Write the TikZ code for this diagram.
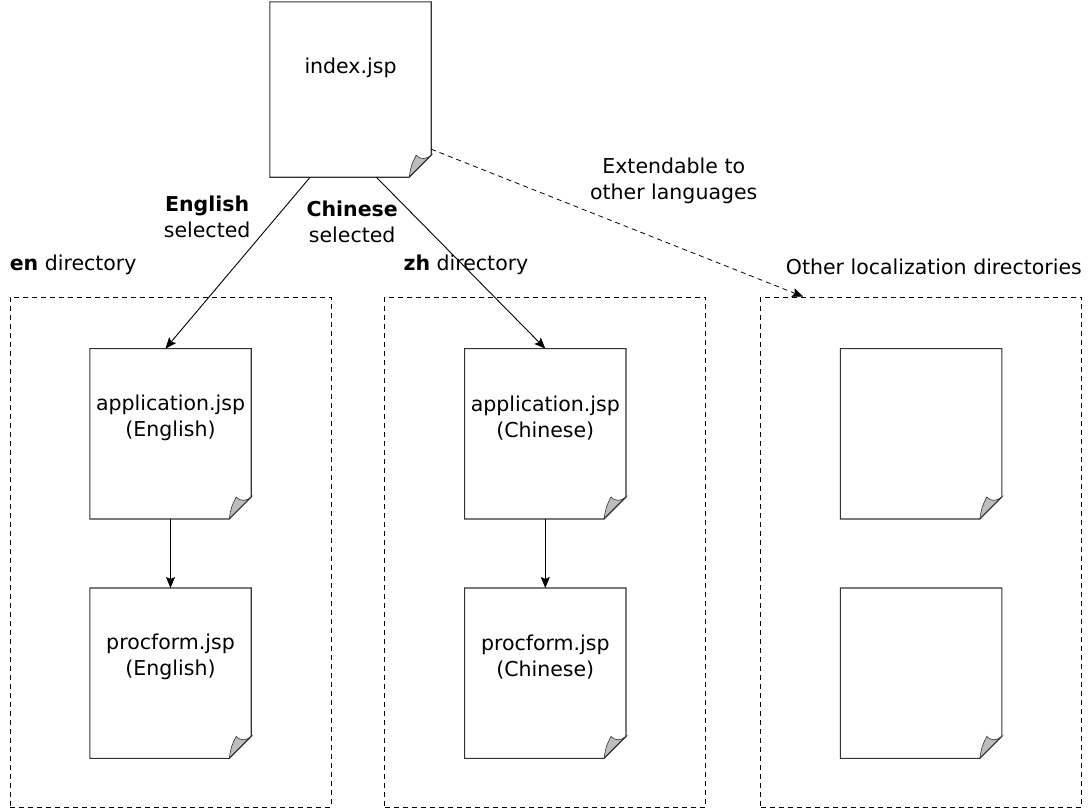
\documentclass[tikz,border=0pt]{standalone}
\usepackage{fontspec}
\setmainfont{DejaVu Sans}
\usetikzlibrary{positioning, calc, arrows.meta}
\definecolor{pgline}{HTML}{333333}
\definecolor{foldgray}{HTML}{BDBDBD}

\begin{document}
\begin{tikzpicture}[x=1pt, y=-1pt, font=\fontsize{20.5}{26}\selectfont,
    dirbox/.style={rectangle, draw, line width=0.8pt, dash pattern=on 5pt off 4pt, minimum width=321pt, minimum height=510pt},
    page/.style={rectangle, minimum width=161pt, minimum height=170pt, inner sep=0pt,
      append after command={\pgfextra{
        \begin{scope}[shift={(\tikzlastnode.south east)}, x=1pt, y=1pt]
          \filldraw[fill=foldgray, draw=pgline, line width=0.6pt] (-22,0) .. controls (-20,12) .. (-15,22) .. controls (-10,17) and (-5,18) .. (0,22) -- cycle;
        \end{scope}
        \draw[pgline, line width=1.1pt] (\tikzlastnode.north west) -- (\tikzlastnode.north east) -- ([yshift=22pt]\tikzlastnode.south east) -- ([xshift=-22pt]\tikzlastnode.south east) -- (\tikzlastnode.south west) -- cycle;
      }}},
    pgtxt/.style={align=center, inner sep=0pt, yshift=#1},
    pgtxt/.default=16pt,
    dirlbl/.style={inner sep=0pt},
    lbl/.style={inner sep=0pt, align=center},
    arr/.style={-{Stealth[length=11pt, width=9pt, inset=2pt]}, line width=0.9pt},
  ]
    \useasboundingbox (0,0) rectangle (1088,809);

    % directories
    \node[dirbox] (en-dir) at (170.5,552) {};
    \node[dirbox, right=53pt of en-dir] (zh-dir) {};
    \node[dirbox, right=54pt of zh-dir] (oth-dir) {};
    \node[dirlbl, above right=22pt and 0pt of en-dir.north west] (en-lbl) {\textbf{en} directory};
    \node[dirlbl, above right=22pt and 19pt of zh-dir.north west] (zh-lbl) {\textbf{zh} directory};
    \node[dirlbl, above left=22pt and 0pt of oth-dir.north east] (oth-lbl) {Other localization directories};

    % pages
    \node[page, minimum height=175pt, label={[pgtxt=22pt]center:index.jsp}] (index) at (350.5,89.5) {};
    \node[page, below=52pt of en-dir.north, label={[pgtxt]center:{application.jsp\\(English)}}] (app-en) {};
    \node[page, below=69pt of app-en, label={[pgtxt]center:{procform.jsp\\(English)}}] (proc-en) {};
    \node[page, below=52pt of zh-dir.north, label={[pgtxt]center:{application.jsp\\(Chinese)}}] (app-zh) {};
    \node[page, below=69pt of app-zh, label={[pgtxt]center:{procform.jsp\\(Chinese)}}] (proc-zh) {};
    \node[page, below=52pt of oth-dir.north] (app-oth) {};
    \node[page, below=69pt of app-oth] (proc-oth) {};

    \draw[arr] ($(index.south west)!0.25!(index.south east)$) -- node[lbl, pos=0.23, anchor=east, xshift=-26pt] (en-sel) {\textbf{English}\\selected} ($(app-en.north)+(-5,0)$);
    \draw[arr] ($(index.south west)!0.66!(index.south east)$) -- node[lbl, pos=0.26, anchor=east, xshift=-22pt] (zh-sel) {\textbf{Chinese}\\selected} (app-zh.north);
    \draw[arr, line width=0.8pt, dash pattern=on 5pt off 4pt] ([yshift=28pt]index.south east) -- node[lbl, pos=0.652, yshift=64pt] (ext-lbl) {Extendable to\\other languages} ($(oth-dir.north west)+(43,0)$);
    \draw[arr] (app-en) -- (proc-en);
    \draw[arr] (app-zh) -- (proc-zh);
  \end{tikzpicture}
\end{document}
